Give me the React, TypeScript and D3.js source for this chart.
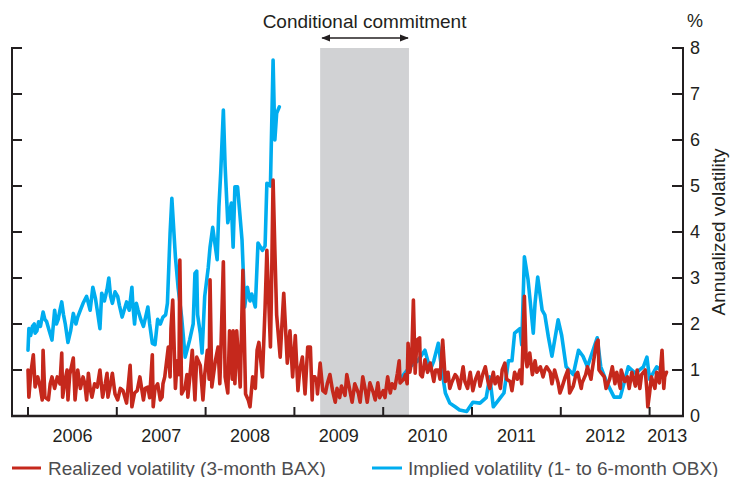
import React from "react";
import * as d3 from "d3";

// ---- Data (decimal year, % annualized volatility) ----
const yearTicks = [2006, 2007, 2008, 2009, 2010, 2011, 2012, 2013];
const yearLabels = ["2006", "2007", "2008", "2009", "2010", "2011", "2012", "2013"];
const yearLabelPos = [2006.5, 2007.5, 2008.5, 2009.5, 2010.5, 2011.5, 2012.5, 2013.2];
const valueTicks = [0, 1, 2, 3, 4, 5, 6, 7, 8];
const shade = [2009.29, 2010.29];

const implied: [number, number][] = [
  [2006.0, 1.43], [2006.01, 1.9], [2006.03, 1.75], [2006.05, 1.95], [2006.07, 2.0], [2006.08, 1.8], [2006.1, 1.85], [2006.12, 2.05], [2006.14, 1.95],
  [2006.17, 2.26], [2006.19, 2.1], [2006.21, 2.05], [2006.24, 1.85], [2006.27, 1.65], [2006.3, 2.3], [2006.32, 2.0], [2006.34, 2.1], [2006.36, 2.3], [2006.38, 2.48],
  [2006.4, 2.2], [2006.42, 2.0], [2006.45, 1.6], [2006.48, 1.85], [2006.51, 2.23], [2006.54, 2.0], [2006.56, 2.15], [2006.59, 2.3], [2006.62, 2.45], [2006.66, 2.6],
  [2006.7, 2.3], [2006.73, 2.8], [2006.76, 2.55], [2006.78, 2.3], [2006.81, 1.9], [2006.83, 2.67], [2006.86, 2.5], [2006.89, 2.75],
  [2006.91, 3.0], [2006.93, 2.6], [2006.95, 2.45], [2006.98, 2.7], [2007.01, 2.6], [2007.03, 2.4], [2007.06, 2.15], [2007.09, 2.35], [2007.11, 2.48],
  [2007.14, 2.3], [2007.17, 2.8], [2007.18, 2.45], [2007.2, 2.0], [2007.22, 2.45], [2007.24, 2.3], [2007.27, 2.1], [2007.3, 1.95], [2007.33, 2.2], [2007.35, 2.37], [2007.37, 2.0], [2007.4, 1.58],
  [2007.43, 1.55], [2007.46, 2.1], [2007.49, 2.0], [2007.52, 2.15], [2007.55, 2.2], [2007.57, 2.45], [2007.6, 3.97], [2007.62, 4.73],
  [2007.66, 3.46], [2007.69, 2.8], [2007.73, 2.15], [2007.77, 1.28], [2007.8, 1.5], [2007.82, 1.65], [2007.86, 2.0],
  [2007.88, 3.1], [2007.9, 3.15], [2007.91, 2.2], [2007.94, 1.8], [2007.96, 1.37], [2007.99, 2.6], [2008.03, 3.23],
  [2008.05, 3.67], [2008.08, 4.1], [2008.13, 3.4], [2008.15, 4.55], [2008.17, 5.28], [2008.2, 6.65],
  [2008.22, 5.42], [2008.25, 4.2], [2008.29, 4.63], [2008.31, 3.67], [2008.33, 4.98], [2008.36, 4.98],
  [2008.41, 3.83], [2008.44, 2.37], [2008.47, 2.8], [2008.5, 2.5], [2008.52, 2.65], [2008.56, 2.37], [2008.59, 3.76],
  [2008.64, 3.6], [2008.67, 3.7], [2008.69, 5.06], [2008.73, 5.0], [2008.76, 7.74], [2008.78, 6.0],
  [2008.8, 6.58], [2008.83, 6.72],
  [NaN, NaN],
  [2010.21, 0.85], [2010.3, 1.07], [2010.39, 1.2], [2010.47, 1.43], [2010.53, 1.0], [2010.57, 1.2],
  [2010.62, 1.58], [2010.66, 1.0], [2010.7, 0.5], [2010.75, 0.28], [2010.81, 0.2], [2010.86, 0.13],
  [2010.94, 0.1], [2011.01, 0.3], [2011.09, 0.28], [2011.16, 0.4], [2011.2, 0.85], [2011.24, 0.2],
  [2011.32, 0.4], [2011.36, 0.5], [2011.41, 1.2], [2011.45, 1.2], [2011.48, 1.8], [2011.54, 1.9],
  [2011.56, 1.55], [2011.59, 3.46], [2011.63, 2.98], [2011.65, 2.6], [2011.69, 1.8], [2011.71, 2.45],
  [2011.74, 3.02], [2011.79, 2.3], [2011.82, 2.2], [2011.86, 1.72], [2011.9, 1.3], [2011.97, 2.09],
  [2012.01, 1.75], [2012.06, 1.07], [2012.14, 0.9], [2012.2, 1.43], [2012.25, 1.3], [2012.3, 1.07],
  [2012.41, 1.7], [2012.45, 1.07], [2012.52, 0.72], [2012.6, 0.41], [2012.67, 0.41], [2012.76, 1.07],
  [2012.84, 0.93], [2012.93, 1.07], [2012.97, 1.28], [2013.0, 0.8], [2013.08, 1.07], [2013.17, 0.93],
];

const realized: [number, number][] = [
  [2006.0, 1.0], [2006.01, 0.41], [2006.03, 0.9], [2006.06, 1.33], [2006.08, 0.63], [2006.1, 0.8],
  [2006.11, 0.85], [2006.14, 0.6], [2006.16, 0.35], [2006.17, 1.43], [2006.19, 0.41], [2006.23, 0.35],
  [2006.25, 0.7], [2006.27, 0.85], [2006.3, 0.6], [2006.33, 0.85], [2006.36, 0.7], [2006.38, 1.37],
  [2006.39, 0.41], [2006.42, 0.8], [2006.44, 1.0], [2006.45, 0.35], [2006.47, 0.9], [2006.51, 1.26],
  [2006.53, 0.35], [2006.56, 1.0], [2006.59, 0.6], [2006.62, 0.85], [2006.64, 0.7], [2006.66, 0.35],
  [2006.68, 0.93], [2006.7, 0.6], [2006.72, 0.41], [2006.75, 0.7], [2006.78, 0.63], [2006.81, 1.0],
  [2006.84, 0.41], [2006.87, 0.7], [2006.89, 0.93], [2006.9, 0.41], [2006.92, 0.6], [2006.95, 0.93],
  [2006.98, 0.48], [2007.01, 0.35], [2007.04, 0.6], [2007.07, 0.55], [2007.11, 0.28], [2007.15, 1.1],
  [2007.17, 0.2], [2007.2, 0.5], [2007.23, 0.55], [2007.26, 0.85], [2007.3, 0.35], [2007.32, 0.6],
  [2007.35, 0.63], [2007.37, 0.4], [2007.4, 1.33], [2007.41, 0.2], [2007.43, 0.6], [2007.46, 0.7],
  [2007.49, 0.35], [2007.51, 0.41], [2007.52, 0.7], [2007.54, 0.85], [2007.58, 1.5], [2007.6, 0.85],
  [2007.61, 1.9], [2007.63, 2.52], [2007.66, 0.6], [2007.68, 1.2], [2007.7, 0.9], [2007.71, 3.39],
  [2007.73, 0.48], [2007.77, 0.63], [2007.79, 0.9], [2007.8, 0.41], [2007.82, 0.8], [2007.85, 1.43],
  [2007.88, 0.35], [2007.9, 1.28], [2007.94, 1.1], [2007.97, 0.35], [2007.99, 0.9], [2008.02, 1.43],
  [2008.04, 0.8], [2008.05, 2.96], [2008.07, 0.63], [2008.11, 1.2], [2008.14, 1.5], [2008.16, 0.7],
  [2008.17, 1.28], [2008.2, 3.35], [2008.22, 0.85], [2008.25, 0.5], [2008.27, 1.85], [2008.3, 0.8],
  [2008.31, 1.85], [2008.33, 0.7], [2008.35, 1.85], [2008.39, 0.63], [2008.42, 3.17], [2008.45, 0.48],
  [2008.48, 0.35], [2008.5, 0.2], [2008.53, 0.85], [2008.56, 0.6], [2008.58, 1.43], [2008.6, 1.6],
  [2008.64, 0.85], [2008.67, 2.37], [2008.69, 3.6], [2008.73, 1.5], [2008.74, 2.5], [2008.76, 5.13],
  [2008.78, 3.6], [2008.8, 2.2], [2008.84, 1.28], [2008.86, 2.0], [2008.88, 2.67], [2008.92, 1.15],
  [2008.95, 1.85], [2008.98, 0.85], [2009.01, 1.75], [2009.04, 0.55], [2009.06, 1.0], [2009.09, 1.28],
  [2009.12, 0.48], [2009.15, 1.5], [2009.18, 1.5], [2009.2, 0.35], [2009.21, 0.85], [2009.23, 0.85],
  [2009.25, 0.75], [2009.26, 0.48], [2009.29, 1.15], [2009.32, 0.55], [2009.35, 0.5], [2009.37, 0.7],
  [2009.4, 0.9], [2009.43, 0.55], [2009.46, 0.3], [2009.48, 0.6], [2009.51, 0.4], [2009.53, 0.65],
  [2009.57, 0.45], [2009.59, 0.9], [2009.63, 0.5], [2009.65, 0.3], [2009.68, 0.7], [2009.72, 0.5],
  [2009.74, 0.3], [2009.77, 0.85], [2009.8, 0.55], [2009.82, 0.3], [2009.85, 0.72], [2009.89, 0.5],
  [2009.91, 0.35], [2009.94, 0.72], [2009.96, 0.4], [2010.0, 0.55], [2010.02, 0.4], [2010.05, 0.85],
  [2010.08, 0.5], [2010.1, 0.7], [2010.13, 0.6], [2010.16, 0.93], [2010.18, 1.2], [2010.19, 0.72],
  [2010.23, 0.8], [2010.25, 0.9], [2010.27, 0.7], [2010.28, 1.58], [2010.3, 0.95], [2010.32, 1.2],
  [2010.34, 2.52], [2010.36, 0.93], [2010.38, 1.65], [2010.41, 1.7], [2010.42, 0.9], [2010.44, 0.85],
  [2010.47, 1.22], [2010.5, 0.95], [2010.53, 1.15], [2010.57, 0.75], [2010.59, 1.0], [2010.62, 1.0],
  [2010.64, 0.8], [2010.67, 1.65], [2010.7, 0.75], [2010.73, 0.95], [2010.75, 0.6], [2010.77, 0.72],
  [2010.81, 0.9], [2010.83, 0.85], [2010.86, 0.6], [2010.9, 1.07], [2010.92, 0.75], [2010.95, 0.6],
  [2010.98, 0.95], [2011.01, 0.55], [2011.04, 0.8], [2011.07, 0.95], [2011.09, 0.65], [2011.12, 0.9],
  [2011.15, 1.07], [2011.18, 0.75], [2011.2, 0.6], [2011.24, 0.95], [2011.26, 0.7], [2011.29, 0.85],
  [2011.32, 0.6], [2011.34, 1.0], [2011.37, 1.15], [2011.39, 0.8], [2011.43, 0.75], [2011.45, 0.55],
  [2011.48, 0.95], [2011.51, 0.8], [2011.54, 1.0], [2011.56, 0.7], [2011.59, 2.6], [2011.61, 1.2],
  [2011.62, 1.07], [2011.65, 1.37], [2011.68, 0.9], [2011.69, 1.0], [2011.71, 1.2], [2011.73, 0.95],
  [2011.77, 1.07], [2011.8, 0.85], [2011.82, 1.0], [2011.84, 1.07], [2011.88, 0.95], [2011.9, 0.7],
  [2011.93, 1.0], [2011.97, 0.72], [2011.99, 0.5], [2012.01, 0.6], [2012.05, 0.85], [2012.08, 1.0],
  [2012.1, 0.5], [2012.14, 0.65], [2012.17, 0.9], [2012.19, 0.95], [2012.23, 0.6], [2012.24, 0.72],
  [2012.28, 0.9], [2012.3, 1.07], [2012.34, 0.8], [2012.35, 0.95], [2012.37, 1.2], [2012.4, 1.58],
  [2012.42, 1.65], [2012.43, 1.0], [2012.45, 0.95], [2012.49, 0.85], [2012.51, 0.6], [2012.52, 0.65],
  [2012.55, 0.8], [2012.58, 1.07], [2012.61, 0.7], [2012.63, 0.95], [2012.67, 0.6], [2012.68, 1.0],
  [2012.72, 0.75], [2012.75, 0.85], [2012.77, 0.6], [2012.8, 0.95], [2012.84, 0.65], [2012.86, 1.0],
  [2012.89, 0.6], [2012.91, 0.9], [2012.95, 1.0], [2012.97, 0.55], [2012.98, 0.2], [2013.0, 0.5],
  [2013.02, 0.85], [2013.06, 0.6], [2013.08, 0.95], [2013.11, 0.72], [2013.14, 1.43], [2013.16, 0.6],
  [2013.17, 0.85], [2013.19, 0.95],
];

const BLUE = "#00adef";
const RED = "#c5281c";
const AXIS = "#231f20";
const FONT = "'Liberation Sans', Arial, Helvetica, sans-serif";

export default function App() {
  const W = 730, H = 477;
  const x = d3.scaleLinear().domain([2006, 2013]).range([28, 649.6]);
  const y = d3.scaleLinear().domain([0, 8]).range([416, 48]);
  const left = 12, right = 683;

  const line = d3
    .line<[number, number]>()
    .defined((d) => !isNaN(d[0]) && !isNaN(d[1]))
    .x((d) => x(d[0]))
    .y((d) => y(d[1]));

  return (
    <svg width={W} height={H} style={{ position: "absolute", left: 0, top: 0, background: "#fff" }} fontFamily={FONT}>
      <defs>
        <marker id="ah" viewBox="0 0 10 10" refX="9" refY="5" markerWidth="6" markerHeight="6" orient="auto-start-reverse">
          <path d="M0,1 L10,5 L0,9 z" fill={AXIS} />
        </marker>
      </defs>
      <rect x={x(shade[0])} y={y(8)} width={x(shade[1]) - x(shade[0])} height={y(0) - y(8)} fill="#d1d2d4" />

      <path d={line(implied) || ""} fill="none" stroke={BLUE} strokeWidth={3.6} strokeLinejoin="round" strokeLinecap="round" />
      <path d={line(realized) || ""} fill="none" stroke={RED} strokeWidth={3.6} strokeLinejoin="round" strokeLinecap="round" />

      {/* axes */}
      <line x1={left} x2={left} y1={y(8) - 1} y2={y(0)} stroke={AXIS} strokeWidth={2} />
      <line x1={right} x2={right} y1={y(8) - 1} y2={y(0)} stroke={AXIS} strokeWidth={2} />
      <line x1={left - 1} x2={right + 1} y1={y(0)} y2={y(0)} stroke={AXIS} strokeWidth={2.5} />
      {valueTicks.map((v) => (
        <g key={v}>
          {v > 0 && <line x1={left} x2={left + 10} y1={y(v)} y2={y(v)} stroke={AXIS} strokeWidth={2} />}
          {v > 0 && <line x1={right - 11} x2={right} y1={y(v)} y2={y(v)} stroke={AXIS} strokeWidth={2} />}
          <text x={690} y={y(v)} dy="0.36em" fontSize={18} fill={AXIS}>{v}</text>
        </g>
      ))}
      {yearTicks.map((t) => (
        <line key={t} x1={x(t)} x2={x(t)} y1={y(0)} y2={y(0) - 9} stroke={AXIS} strokeWidth={2} />
      ))}
      {yearLabels.map((l, i) => (
        <text key={l} x={x(yearLabelPos[i])} y={442} textAnchor="middle" fontSize={18} fill={AXIS}>{l}</text>
      ))}

      <text x={695} y={27} textAnchor="middle" fontSize={18} fill={AXIS}>%</text>
      <text transform="translate(725,232) rotate(-90)" textAnchor="middle" fontSize={19} fill={AXIS}>Annualized volatility</text>

      {/* annotation */}
      <text x={(x(shade[0]) + x(shade[1])) / 2} y={28} textAnchor="middle" fontSize={19} fill={AXIS}>Conditional commitment</text>
      <line x1={x(shade[0]) + 2} x2={x(shade[1]) - 1} y1={38} y2={38} stroke={AXIS} strokeWidth={1.5}
        markerStart="url(#ah)" markerEnd="url(#ah)" />

      {/* legend */}
      <line x1={12} x2={41} y1={468} y2={468} stroke={RED} strokeWidth={3} />
      <text x={48} y={475} fontSize={19} fill="#4d4d4f">Realized volatility (3-month BAX)</text>
      <line x1={372} x2={402} y1={468} y2={468} stroke={BLUE} strokeWidth={3} />
      <text x={408} y={475} fontSize={19} fill="#4d4d4f">Implied volatility (1- to 6-month OBX)</text>
    </svg>
  );
}
